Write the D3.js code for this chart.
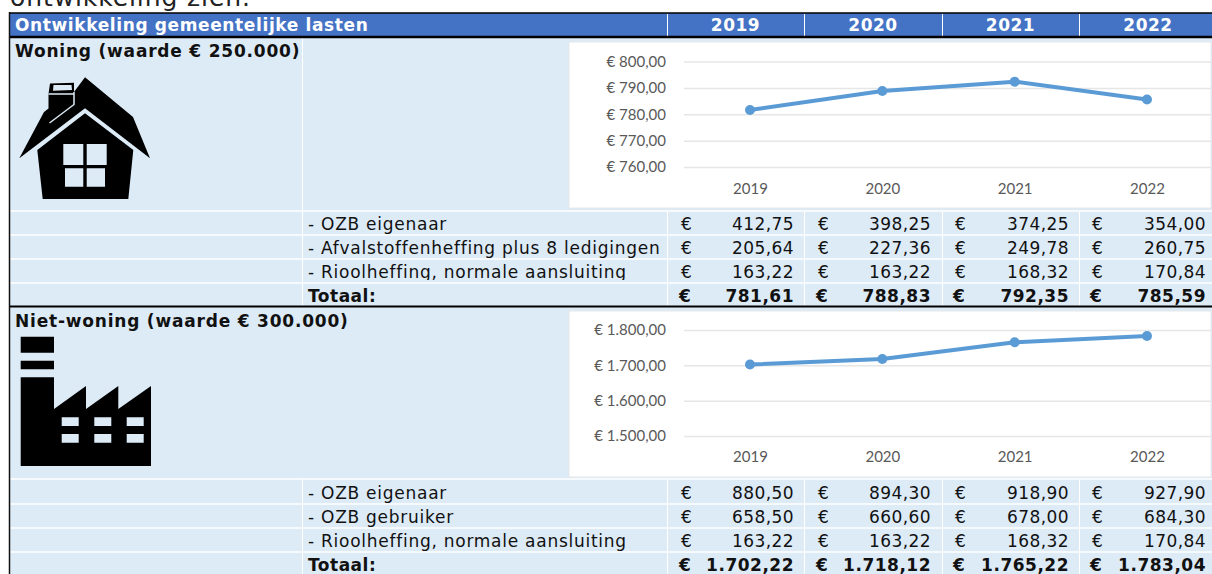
<!DOCTYPE html>
<html><head><meta charset="utf-8">
<script src="https://cdn.jsdelivr.net/npm/d3@7"></script>
<style>
html,body{margin:0;padding:0;background:#fff;overflow:hidden}
svg{display:block}
.t{font-family:"DejaVu Sans",sans-serif;font-size:17px;fill:#111}
.lab{letter-spacing:.74px}
.val{letter-spacing:.4px}
.b{font-weight:bold}
.tit{letter-spacing:.62px}
.sec{letter-spacing:.8px}
.tot{letter-spacing:.5px}
.axis text{font-family:Lato,sans-serif;font-size:15px;fill:#595959}
</style></head><body><div id="c"></div>
<script>
const years=["2019","2020","2021","2022"];
const title="Ontwikkeling gemeentelijke lasten";
const intro="ontwikkeling zien.";

const wLabel="Woning (waarde € 250.000)";
const wRows=["- OZB eigenaar","- Afvalstoffenheffing plus 8 ledigingen","- Rioolheffing, normale aansluiting"];
const wOzb=[412.75,398.25,374.25,354.00];
const wAfval=[205.64,227.36,249.78,260.75];
const wRiool=[163.22,163.22,168.32,170.84];
const wTotal=[781.61,788.83,792.35,785.59];
const wTicks=[760,770,780,790,800];

const nLabel="Niet-woning (waarde € 300.000)";
const nRows=["- OZB eigenaar","- OZB gebruiker","- Rioolheffing, normale aansluiting"];
const nOzbE=[880.50,894.30,918.90,927.90];
const nOzbG=[658.50,660.60,678.00,684.30];
const nRiool=[163.22,163.22,168.32,170.84];
const nTotal=[1702.22,1718.12,1765.22,1783.04];
const nTicks=[1500,1600,1700,1800];

const W=1212,H=574;
const svg=d3.select("#c").append("svg").attr("width",W).attr("height",H);
const nf=d3.formatLocale({decimal:",",thousands:".",grouping:[3],currency:["€ ",""]});
const money=nf.format(",.2f"), euroTick=nf.format("$,.2f");

svg.append("text").attr("class","t").attr("x",10).attr("y",6).style("font-size","25px").style("letter-spacing",".9px").style("fill","#222").text(intro);
svg.append("rect").attr("x",10).attr("y",13).attr("width",W-10).attr("height",H-13).attr("fill","#DDEBF7");
svg.append("rect").attr("x",10).attr("y",13).attr("width",W-10).attr("height",24).attr("fill","#4472C4");
svg.append("text").attr("class","t b tit").attr("x",15).attr("y",31).style("fill","#fff").text(title);

const colEdges=[667,804,942,1079,1217];
const priceEnd=[794,931,1069,1206];
const euroX=[681,818,955,1092];
years.forEach((y,i)=>{
  svg.append("line").attr("x1",colEdges[i]+.5).attr("x2",colEdges[i]+.5).attr("y1",14).attr("y2",36).attr("stroke","#fff");
  svg.append("text").attr("class","t b tot").attr("x",(colEdges[i]+colEdges[i+1])/2).attr("y",31).attr("text-anchor","middle").style("fill","#fff").text(y);
});
function hline(y,c,w){svg.append("line").attr("x1",10).attr("x2",W).attr("y1",y).attr("y2",y).attr("stroke",c).attr("stroke-width",w);}
function vline(x,y1,y2){svg.append("line").attr("x1",x).attr("x2",x).attr("y1",y1).attr("y2",y2).attr("stroke","#fff");}

function section(o){
  svg.append("text").attr("class","t b sec").attr("x",15).attr("y",o.labelY).text(o.label);
  o.seps.forEach(y=>hline(y,"#fff",1.5));
  colEdges.slice(0,4).forEach(x=>vline(x+.5,o.seps[0],o.tableEnd));
  vline(302.5,o.vTop,o.vBot);vline(302.5,o.seps[0],o.tableEnd);
  o.rows.forEach((lab,r)=>{
    const g=svg.append("g");
    if(r===2&&o.clip){
      const id="cl"+o.key;
      svg.append("clipPath").attr("id",id).append("rect").attr("x",303).attr("y",o.rowY[r]-16).attr("width",909).attr("height",o.clip);
      g.attr("clip-path",`url(#${id})`);
    }
    g.append("text").attr("class","t lab").attr("x",308).attr("y",o.rowY[r]).text(lab);
    o.vals[r].forEach((v,i)=>{
      g.append("text").attr("class","t").attr("x",euroX[i]).attr("y",o.rowY[r]).text("€");
      g.append("text").attr("class","t val").attr("x",priceEnd[i]).attr("y",o.rowY[r]).attr("text-anchor","end").text(money(v));
    });
  });
  svg.append("text").attr("class","t b tot").attr("x",308).attr("y",o.rowY[3]).text("Totaal:");
  o.total.forEach((v,i)=>{
    svg.append("text").attr("class","t b").attr("x",euroX[i]-2).attr("y",o.rowY[3]).text("€");
    svg.append("text").attr("class","t b tot").attr("x",priceEnd[i]).attr("y",o.rowY[3]).attr("text-anchor","end").text(money(v));
  });
  svg.append("rect").attr("x",569).attr("y",o.py0).attr("width",W-570).attr("height",o.py1-o.py0).attr("fill","#fff").attr("stroke","#E6E8EA");
  const x=d3.scalePoint().domain(years).range([750,1147]);
  const y=d3.scaleLinear().domain(o.dom).range(o.rng);
  const ax=svg.append("g").attr("class","axis").attr("transform","translate(684,0)")
    .call(d3.axisLeft(y).tickValues(o.ticks).tickFormat(euroTick).tickSize(-(W-685)).tickPadding(18));
  ax.select(".domain").remove();
  ax.selectAll("line").attr("stroke","#E6E6E6").attr("stroke-width",1.5);
  const bx=svg.append("g").attr("class","axis").attr("transform",`translate(0,${o.xAxisY})`)
    .call(d3.axisBottom(x).tickSize(0).tickPadding(0));
  bx.select(".domain").remove();
  svg.append("path").datum(o.total).attr("fill","none").attr("stroke","#5B9BD5").attr("stroke-width",4).attr("stroke-linejoin","round")
    .attr("d",d3.line().x((d,i)=>x(years[i])).y(d=>y(d)));
  svg.selectAll(null).data(o.total).enter().append("circle").attr("cx",(d,i)=>x(years[i])).attr("cy",d=>y(d)).attr("r",5).attr("fill","#5B9BD5");
}

section({key:"w",label:wLabel,labelY:57,rows:wRows,vals:[wOzb,wAfval,wRiool],total:wTotal,
  rowY:[230,254,278,302],seps:[211,235,259,283],tableEnd:306,vTop:38,vBot:211,clip:18,
  py0:42,py1:208,dom:[760,800],rng:[167,61.5],ticks:wTicks,xAxisY:183});
section({key:"n",label:nLabel,labelY:327,rows:nRows,vals:[nOzbE,nOzbG,nRiool],total:nTotal,
  rowY:[499,523,547,571],seps:[479,504,528,552],tableEnd:574,vTop:308,vBot:308,clip:0,
  py0:311,py1:477,dom:[1500,1800],rng:[436,330],ticks:nTicks,xAxisY:451});

hline(13,"#000",1.5);hline(37,"#000",2.5);hline(306.5,"#000",2);
svg.append("line").attr("x1",9.5).attr("x2",9.5).attr("y1",12).attr("y2",H).attr("stroke","#111").attr("stroke-width",1.5);

svg.append("path").attr("fill","#000").attr("fill-rule","evenodd").attr("d",
 "M19.3 158.3L44 112L48.5 108.5L48.5 94L50 83.5L74 82.7L74 92L85 77.3L133 117L150 158.3L85 108.3ZM53.5 85L53 90.7L72 90L71.5 85Z");
svg.append("path").attr("fill","none").attr("stroke","#DDEBF7").attr("stroke-width",1.5).attr("d","M48.5 94L74 94M49.5 123L74 104.5L74 92");
svg.append("path").attr("fill","#000").attr("fill-rule","evenodd").attr("d",
 "M37.3 150L85 113.3L133.3 150L128.3 199L42.7 199ZM63.3 144L83.3 144L83.3 165L63.3 165ZM86.7 144L106.7 144L106.7 165L86.7 165ZM65 168.3L83.3 168.3L83.3 186.7L65 186.7ZM86.7 168.3L105 168.3L105 186.7L86.7 186.7Z");
svg.append("path").attr("fill","#000").attr("fill-rule","evenodd").attr("d",
 "M20.7 336.7H54V352.7H20.7ZM20.7 360.7H54V369.3H20.7ZM20.7 377.3H54V409L86 386V409L118.3 386V409L151 386V466H20.7Z"+
 ["61.7","94.3","126.7"].map(x=>[417.3,434].map(y=>`M${x} ${y}h17v8.7h-17Z`).join("")).join(""));
</script></body></html>
